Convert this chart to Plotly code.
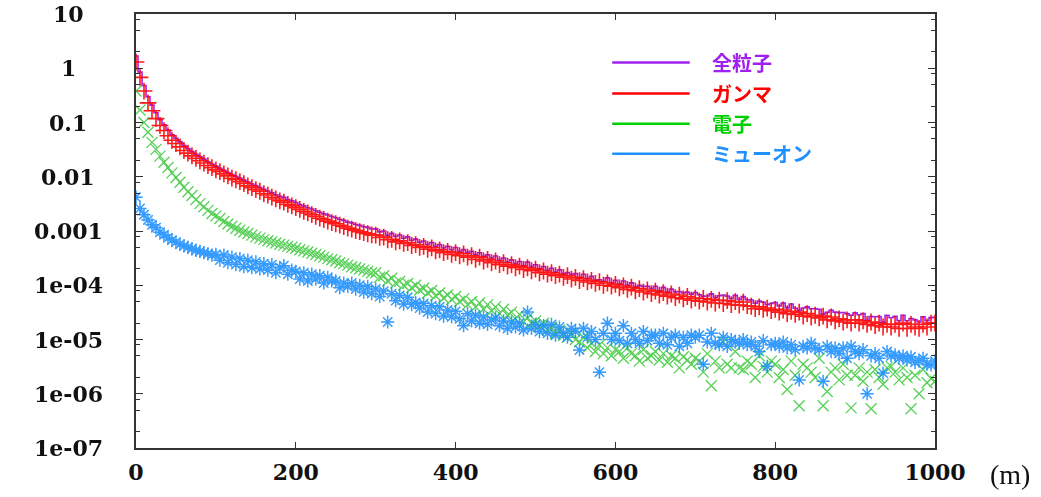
import numpy as np
import plotly.graph_objects as go

# Lateral distance from the shower core (m), 5 m bins
distance_m = [
    0, 5, 10, 15, 20, 25, 30, 35, 40, 45,
    50, 55, 60, 65, 70, 75, 80, 85, 90, 95,
    100, 105, 110, 115, 120, 125, 130, 135, 140, 145,
    150, 155, 160, 165, 170, 175, 180, 185, 190, 195,
    200, 205, 210, 215, 220, 225, 230, 235, 240, 245,
    250, 255, 260, 265, 270, 275, 280, 285, 290, 295,
    300, 305, 310, 315, 320, 325, 330, 335, 340, 345,
    350, 355, 360, 365, 370, 375, 380, 385, 390, 395,
    400, 405, 410, 415, 420, 425, 430, 435, 440, 445,
    450, 455, 460, 465, 470, 475, 480, 485, 490, 495,
    500, 505, 510, 515, 520, 525, 530, 535, 540, 545,
    550, 555, 560, 565, 570, 575, 580, 585, 590, 595,
    600, 605, 610, 615, 620, 625, 630, 635, 640, 645,
    650, 655, 660, 665, 670, 675, 680, 685, 690, 695,
    700, 705, 710, 715, 720, 725, 730, 735, 740, 745,
    750, 755, 760, 765, 770, 775, 780, 785, 790, 795,
    800, 805, 810, 815, 820, 825, 830, 835, 840, 845,
    850, 855, 860, 865, 870, 875, 880, 885, 890, 895,
    900, 905, 910, 915, 920, 925, 930, 935, 940, 945,
    950, 955, 960, 965, 970, 975, 980, 985, 990, 995,
    1000,
]

# Particle densities per bin
gamma = [
    1.30, 0.68, 0.38, 0.23, 0.165, 0.118, 0.088, 0.071, 0.057, 0.047,
    0.041, 0.0355, 0.0305, 0.0272, 0.0243, 0.0218, 0.0197, 0.0179, 0.0161, 0.0147,
    0.0134, 0.0124, 0.0113, 0.0104, 0.0094, 0.0088, 0.0081, 0.0075, 0.0068, 0.0063,
    0.0058, 0.0054, 0.0049, 0.0046, 0.0042, 0.0039, 0.0036, 0.0034, 0.0031, 0.0029,
    0.0027, 0.0025, 0.0023, 0.00215, 0.0020, 0.00186, 0.00172, 0.00163, 0.00152, 0.00143,
    0.00136, 0.00128, 0.00121, 0.00113, 0.00108, 0.00102, 0.00097, 0.00093, 0.00089, 0.00085,
    0.00084, 0.00076, 0.00077, 0.00069, 0.0007, 0.00063, 0.00066, 0.00059, 0.00061, 0.00054,
    0.00056, 0.0005, 0.00052, 0.00046, 0.00049, 0.00043, 0.00045, 0.0004, 0.00042, 0.00037,
    0.0004, 0.00035, 0.00038, 0.00033, 0.00035, 0.0003, 0.00033, 0.00028, 0.0003, 0.00026,
    0.00028, 0.00024, 0.00026, 0.000225, 0.00024, 0.00021, 0.000225, 0.000195, 0.00021, 0.000185,
    0.000198, 0.00017, 0.000183, 0.00016, 0.00017, 0.00015, 0.00016, 0.00014, 0.00015, 0.00013,
    0.00014, 0.000122, 0.000132, 0.000115, 0.000123, 0.000108, 0.000116, 0.0001, 0.00011, 0.000096,
    0.000104, 0.00009, 0.000097, 0.000084, 0.000092, 0.000079, 0.000087, 0.000075, 0.000082, 0.00007,
    0.000078, 0.000066, 0.000073, 0.000063, 0.000069, 0.000059, 0.000066, 0.000056, 0.000062, 0.000053,
    0.000058, 0.000051, 0.000057, 0.000049, 0.000055, 0.000047, 0.000053, 0.000046, 0.000052, 0.000044,
    0.00005, 0.000043, 0.000049, 0.000042, 0.000041, 0.000037, 0.00004, 0.000036, 0.000038, 0.000034,
    0.000036, 0.000032, 0.000035, 0.00003, 0.000033, 0.000029, 0.000032, 0.000027, 0.00003, 0.000026,
    0.000028, 0.000025, 0.000027, 0.000023, 0.000026, 0.000022, 0.000024, 0.000021, 0.000023, 0.00002,
    0.000023, 0.00002, 0.000022, 0.000019, 0.000021, 0.000018, 0.00002, 0.000017, 0.000019, 0.000017,
    0.000019, 0.000016, 0.00002, 0.000016, 0.000019, 0.000017, 0.000016, 0.000019, 0.000017, 0.00002,
    0.00002,
]

electron = [
    0.38, 0.17, 0.10, 0.066, 0.043, 0.032, 0.024, 0.0185, 0.0148, 0.0118,
    0.0097, 0.0079, 0.0064, 0.0053, 0.0045, 0.0038, 0.0032, 0.0028, 0.0024, 0.0021,
    0.0019, 0.0017, 0.0015, 0.00135, 0.00122, 0.00112, 0.00103, 0.00096, 0.0009, 0.00084,
    0.00078, 0.00074, 0.0007, 0.00066, 0.00063, 0.0006, 0.00057, 0.00055, 0.00052, 0.0005,
    0.00048, 0.00045, 0.00043, 0.00041, 0.00039, 0.00037, 0.00035, 0.00033, 0.00031, 0.000295,
    0.00028, 0.00026, 0.00025, 0.000235, 0.00022, 0.00021, 0.0002, 0.00019, 0.00018, 0.00017,
    0.00017, 0.00014, 0.00015, 0.00012, 0.000135, 0.00011, 0.000118, 0.0001, 0.000108, 0.00009,
    0.0001, 0.000082, 0.000088, 0.000072, 0.00008, 0.000064, 0.000072, 0.000058, 0.000066, 0.000055,
    0.000062, 0.00005, 0.000056, 0.000044, 0.00005, 0.00004, 0.000047, 0.000036, 0.000044, 0.000034,
    0.00004, 0.00003, 0.000036, 0.000028, 0.000032, 0.000024, 0.000029, 0.000021, 0.000025, 0.00002,
    0.000022, 0.000018, 0.00002, 0.000015, 0.000017, 0.000013, 0.000015, 0.000012, 0.000011, 0.000013,
    0.00001, 0.000009, 0.000011, 0.000007, 0.0000085, 0.000006, 0.000008, 0.0000055, 0.000007, 0.000005,
    0.0000065, 0.000006, 0.0000045, 0.000007, 0.0000055, 0.000005, 0.000004, 0.0000065, 0.0000045, 0.000005,
    0.000006, 0.0000042, 0.0000055, 0.0000038, 0.000005, 0.0000045, 0.000003, 0.0000048, 0.0000042, 0.0000035,
    0.0000045, 0.000004, 0.0000025, 0.0000055, 0.0000014, 0.000004, 0.000003, 0.000009, 0.0000035, 0.000003,
    0.000006, 0.000003, 0.0000028, 0.000004, 0.0000035, 0.000002, 0.000005, 0.0000032, 0.0000025, 0.000004,
    0.0000035, 0.000002, 0.0000028, 0.0000012, 0.000004, 0.0000022, 0.0000006, 0.0000035, 0.000003, 0.0000025,
    0.000002, 0.0000045, 0.0000006, 0.0000011, 0.0000025, 0.000003, 0.0000018, 0.0000035, 0.0000022, 0.00000055,
    0.0000022, 0.000003, 0.0000017, 0.0000025, 0.00000053, 0.0000028, 0.000002, 0.0000015, 0.000003, 0.0000032,
    0.0000025, 0.0000018, 0.000003, 0.000002, 0.00000053, 0.0000022, 0.000001, 0.0000028, 0.0000016, 0.0000019,
    0.0000017,
]

muon = [
    0.0042, 0.0026, 0.002, 0.0016, 0.0013, 0.00115, 0.00095, 0.00085, 0.00075, 0.00068,
    0.00062, 0.00057, 0.00053, 0.0005, 0.00047, 0.00044, 0.00042, 0.0004, 0.00038, 0.00036,
    0.00037, 0.00029, 0.00036, 0.00026, 0.00033, 0.00024, 0.00031, 0.00022, 0.00029, 0.00021,
    0.00027, 0.0002, 0.00025, 0.00019, 0.00024, 0.00017, 0.00021, 0.00023, 0.00016, 0.00019,
    0.00018, 0.00013, 0.00017, 0.00012, 0.00016, 0.00013, 0.00015, 0.00011, 0.00014, 0.00012,
    0.00012, 0.00009, 0.00011, 0.000095, 0.00011, 0.000085, 0.0001, 0.000075, 0.000095, 0.00007,
    0.000085, 0.000062, 0.000078, 0.000021, 0.00007, 0.000052, 0.000065, 0.000045, 0.00006, 0.000044,
    0.000048, 0.000038, 0.000046, 0.000032, 0.000042, 0.00003, 0.00004, 0.000027, 0.000035, 0.000026,
    0.000033, 0.000024, 0.000018, 0.00003, 0.000022, 0.000028, 0.00002, 0.000026, 0.000019, 0.000023,
    0.000025, 0.000018, 0.000022, 0.000016, 0.000021, 0.000017, 0.00002, 0.000015, 0.000032, 0.000016,
    0.000019, 0.000014, 0.000018, 0.000013, 0.000019, 0.000012, 0.000017, 0.000013, 0.000011, 0.000016,
    0.000014, 0.0000064, 0.000016, 0.000011, 0.000014, 0.00001, 0.0000025, 0.000013, 0.00002, 0.00001,
    0.000013, 0.0000095, 0.000018, 0.0000085, 0.000013, 0.00001, 0.0000085, 0.000014, 0.0000095, 0.000012,
    0.000012, 0.0000085, 0.000013, 0.000008, 0.000011, 0.000012, 0.0000075, 0.000011, 0.0000085, 0.000012,
    0.000011, 0.000012, 0.0000035, 0.000009, 0.000013, 0.0000085, 0.000008, 0.000011, 0.0000075, 0.00001,
    0.000009, 0.0000085, 0.00001, 0.000008, 0.000009, 0.0000075, 0.000006, 0.0000095, 0.0000032, 0.000008,
    0.0000085, 0.0000075, 0.000009, 0.000007, 0.000008, 0.0000065, 0.0000018, 0.0000075, 0.000007, 0.0000085,
    0.000007, 0.0000065, 0.0000017, 0.0000075, 0.000006, 0.000007, 0.0000055, 0.000007, 0.0000045, 0.0000075,
    0.000006, 0.0000055, 0.0000065, 0.000001, 0.000005, 0.0000055, 0.0000045, 0.0000024, 0.000006, 0.000005,
    0.0000052, 0.0000045, 0.000005, 0.0000042, 0.0000048, 0.0000038, 0.000004, 0.0000045, 0.0000035, 0.0000034,
    0.000004,
]

# All particles = sum of the three components
all_particles = (np.array(gamma) + np.array(electron) + np.array(muon)).tolist()

series_names = ["全粒子", "ガンマ", "電子", "ミューオン"]
series_colors = ["#a020f0", "#ff0000", "#00d000", "#1e90ff"]

x_tick_values = [0, 200, 400, 600, 800, 1000]
y_tick_values = [1e-7, 1e-6, 1e-5, 1e-4, 1e-3, 1e-2, 1e-1, 1, 10]
y_tick_labels = ["1e-07", "1e-06", "1e-05", "1e-04", "0.001", "0.01", "0.1", "1", "10"]

TICK_FONT = dict(family="DejaVu Serif", size=22, color="#111111", weight="bold")

fig = go.Figure()

fig.add_trace(go.Scatter(
    x=distance_m, y=all_particles, mode="lines", line_shape="hvh",
    line=dict(color=series_colors[0], width=1.6), showlegend=False,
))
fig.add_trace(go.Scatter(
    x=distance_m, y=gamma, mode="markers",
    marker=dict(symbol="cross-thin", size=12, color=series_colors[1],
                line=dict(color=series_colors[1], width=1.6)),
    opacity=0.9, showlegend=False,
))
fig.add_trace(go.Scatter(
    x=distance_m, y=electron, mode="markers",
    marker=dict(symbol="x-thin", size=11, color="#20c020",
                line=dict(color="#20c020", width=1.3)),
    opacity=0.75, showlegend=False,
))
fig.add_trace(go.Scatter(
    x=distance_m, y=muon, mode="markers",
    marker=dict(symbol="asterisk", size=11, color=series_colors[3],
                line=dict(color=series_colors[3], width=1.5)),
    opacity=0.9, showlegend=False,
))

# Legend: coloured line samples with coloured labels
legend_y = [0.888, 0.817, 0.747, 0.678]
shapes = []
annotations = []
for name, color, ly in zip(series_names, series_colors, legend_y):
    shapes.append(dict(type="line", xref="paper", yref="paper",
                       x0=0.596, x1=0.693, y0=ly, y1=ly,
                       line=dict(color=color, width=2.5)))
    annotations.append(dict(xref="paper", yref="paper", x=0.718, y=ly,
                            xanchor="left", yanchor="middle", showarrow=False,
                            text=name,
                            font=dict(family="Noto Sans CJK JP", size=20,
                                      color=color, weight="bold")))

# Y tick labels, centred in the left margin
for val, lab in zip(y_tick_values, y_tick_labels):
    annotations.append(dict(xref="paper", yref="y", x=-0.085, y=np.log10(val),
                            xanchor="center", yanchor="middle", showarrow=False,
                            text=lab, font=TICK_FONT))

# Unit label next to the x axis
annotations.append(dict(xref="paper", yref="paper", x=1.094, y=-0.062,
                        xanchor="center", yanchor="middle", showarrow=False,
                        text="(m)",
                        font=dict(family="Liberation Serif", size=28, color="#111111")))

minor_vals = []
for e in range(-7, 1):
    for m in (2, 5, 8):
        minor_vals.append(m * 10.0 ** e)

fig.update_layout(
    width=1041, height=497,
    margin=dict(l=136, r=106, t=14, b=45),
    paper_bgcolor="white", plot_bgcolor="white",
    showlegend=False,
    shapes=shapes,
    annotations=annotations,
    xaxis=dict(
        range=[0, 1000], tickvals=x_tick_values,
        ticktext=[str(v) for v in x_tick_values],
        ticks="inside", ticklen=6, tickwidth=1.2, tickcolor="#333333",
        showline=True, linecolor="#333333", linewidth=1.5, mirror="ticks",
        showgrid=False, zeroline=False, tickfont=TICK_FONT,
        ticklabelstandoff=4,
    ),
    yaxis=dict(
        type="log", range=[-7, 1], tickvals=y_tick_values,
        showticklabels=False,
        ticks="inside", ticklen=7, tickwidth=1.2, tickcolor="#333333",
        minor=dict(tickvals=minor_vals, ticks="inside", ticklen=4,
                   tickwidth=1, tickcolor="#333333"),
        showline=True, linecolor="#333333", linewidth=1.5, mirror="ticks",
        showgrid=False, zeroline=False,
    ),
)

fig.write_html("out.html")
